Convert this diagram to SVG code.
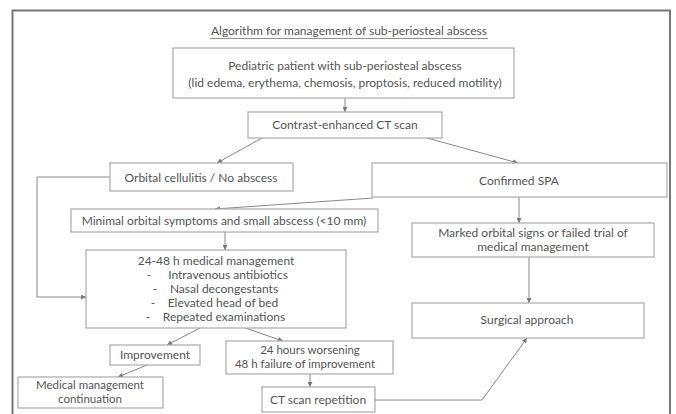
<svg xmlns="http://www.w3.org/2000/svg" width="676" height="414" viewBox="0 0 676 414">
<defs>
<marker id="ah" viewBox="0 0 6 6" refX="6" refY="3" markerWidth="5" markerHeight="5" markerUnits="userSpaceOnUse" orient="auto">
<path d="M0,0 L6,3 L0,6 Z" fill="#777"/>
</marker>
<style>
text{font-family:Lato,"Open Sans","Liberation Sans",sans-serif;font-size:12px;fill:#555;text-anchor:middle}
.sm{font-size:11.5px}
.box{fill:#fff;stroke:#aaa;stroke-width:1.2}
.con{fill:none;stroke:#888;stroke-width:1}
.arr{marker-end:url(#ah)}
</style>
</defs>
<rect x="0" y="0" width="676" height="414" fill="#fff"/>
<path d="M12.5,414 V10.5 H670 V414" fill="none" stroke="#777" stroke-width="2"/>
<g id="title">
<text x="349" y="35">Algorithm for management of sub-periosteal abscess</text>
<line x1="210" y1="38.5" x2="488" y2="38.5" stroke="#777" stroke-width="0.8"/>
</g>
<g id="connectors">
<line class="con arr" x1="345" y1="98" x2="345" y2="112"/>
<line class="con arr" x1="262" y1="138" x2="217" y2="163"/>
<line class="con arr" x1="427" y1="138" x2="518" y2="163"/>
<line class="con arr" x1="373" y1="198" x2="215" y2="209"/>
<path class="con arr" d="M110,177 H37 V297 H86"/>
<line class="con arr" x1="225" y1="232" x2="225" y2="250"/>
<line class="con arr" x1="519" y1="197" x2="519" y2="223"/>
<line class="con arr" x1="529" y1="257" x2="529" y2="303"/>
<line class="con arr" x1="200" y1="328" x2="167" y2="345"/>
<line class="con arr" x1="245" y1="328" x2="283" y2="341"/>
<line class="con arr" x1="147" y1="365" x2="118" y2="377"/>
<line class="con arr" x1="310" y1="374" x2="310" y2="387"/>
<path class="con arr" d="M375,400 H482 L527,338"/>
</g>
<g id="patient">
<rect class="box" x="173" y="48" width="341" height="50"/>
<text x="345" y="70">Pediatric patient with sub-periosteal abscess</text>
<text x="345" y="87">(lid edema, erythema, chemosis, proptosis, reduced motility)</text>
</g>
<g id="ct">
<rect class="box" x="248" y="112" width="194" height="26"/>
<text x="345" y="129">Contrast-enhanced CT scan</text>
</g>
<g id="orbital">
<rect class="box" x="110" y="163" width="183" height="28"/>
<text x="201" y="182">Orbital cellulitis / No abscess</text>
</g>
<g id="confirmed">
<rect class="box" x="372" y="163" width="295" height="34"/>
<text x="519" y="185">Confirmed SPA</text>
</g>
<g id="minimal">
<rect class="box" x="71" y="209" width="307" height="23"/>
<text x="224" y="225">Minimal orbital symptoms and small abscess (&lt;10 mm)</text>
</g>
<g id="marked">
<rect class="box" x="412" y="223" width="242" height="34"/>
<text x="533" y="237">Marked orbital signs or failed trial of</text>
<text x="533" y="251">medical management</text>
</g>
<g id="medical">
<rect class="box" x="86" y="250" width="260" height="78"/>
<text x="216" y="265">24-48 h medical management</text>
<text x="149" y="279">-</text><text x="228" y="279">Intravenous antibiotics</text>
<text x="155" y="293">-</text><text x="224" y="293">Nasal decongestants</text>
<text x="153" y="307">-</text><text x="223" y="307">Elevated head of bed</text>
<text x="148" y="321">-</text><text x="224" y="321">Repeated examinations</text>
</g>
<g id="surgical">
<rect class="box" x="412" y="303" width="232" height="35"/>
<text x="527" y="324">Surgical approach</text>
</g>
<g id="improvement">
<rect class="box" x="110" y="345" width="90" height="20"/>
<text x="155" y="359">Improvement</text>
</g>
<g id="worsening">
<rect class="box" x="226" y="341" width="167" height="33"/>
<text class="sm" x="310" y="354">24 hours worsening</text>
<text class="sm" x="305" y="368">48 h failure of improvement</text>
</g>
<g id="continuation">
<rect class="box" x="18" y="377" width="145" height="31"/>
<text class="sm" x="90" y="389">Medical management</text>
<text class="sm" x="90" y="403">continuation</text>
</g>
<g id="ctrepeat">
<rect class="box" x="262" y="387" width="113" height="25"/>
<text x="318" y="404">CT scan repetition</text>
</g>
</svg>
